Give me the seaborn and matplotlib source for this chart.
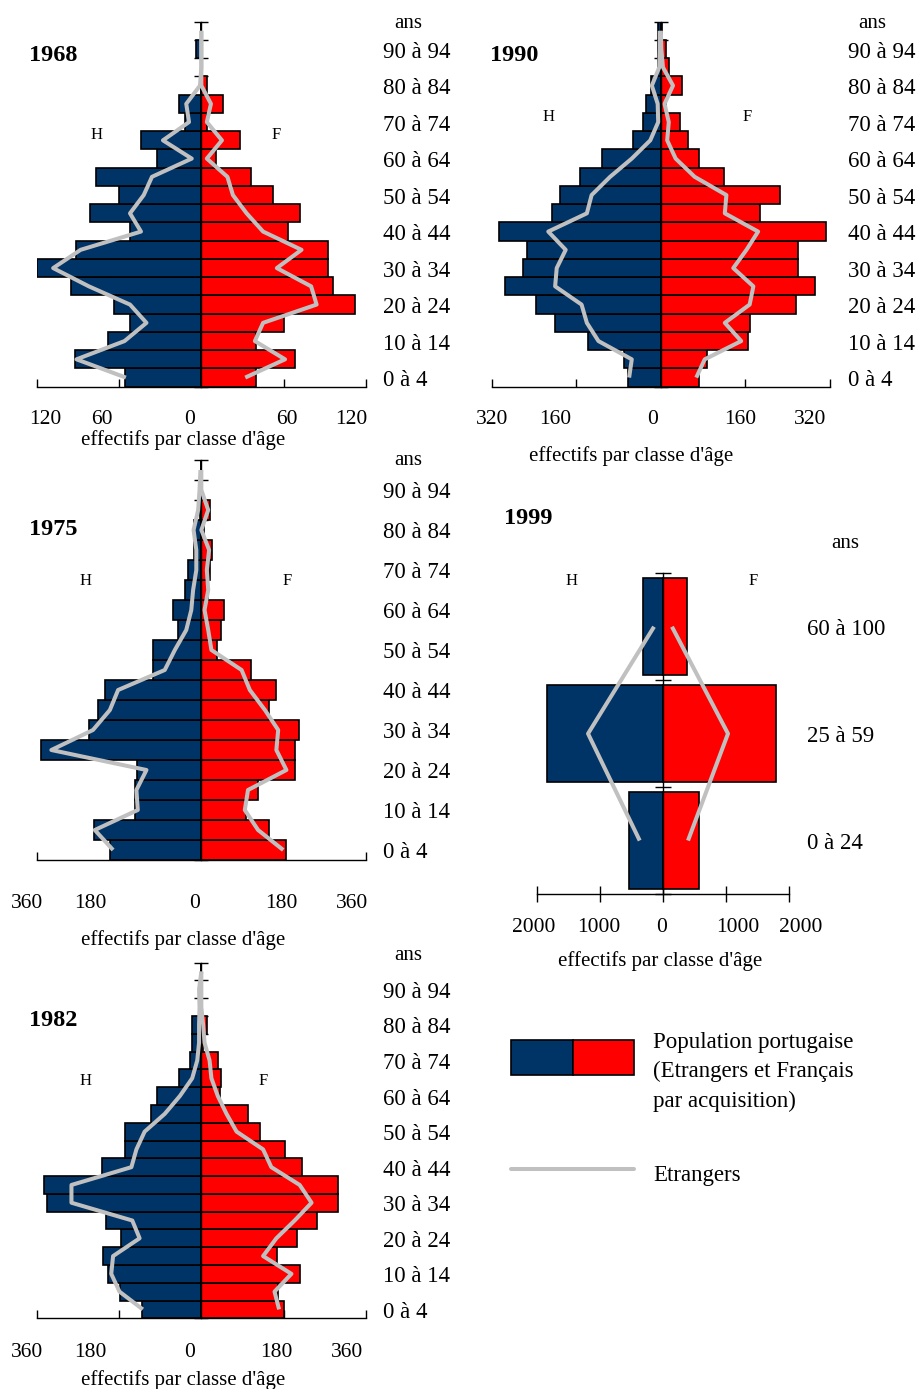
import numpy as np
import pandas as pd
import matplotlib
matplotlib.use("Agg")
import matplotlib.pyplot as plt
from matplotlib import transforms
from matplotlib.patches import Patch
from matplotlib.lines import Line2D
from matplotlib.legend_handler import HandlerTuple
import seaborn as sns

# ---------------------------------------------------------------------------
# Données : effectifs par tranche d'âge (H = hommes, F = femmes)
# ---------------------------------------------------------------------------
groupes = [f"{a} à {a + 4}" for a in range(0, 100, 5)]      # 0 à 4 ... 95 à 99
groupes_1999 = ["0 à 24", "25 à 59", "60 à 100"]

# Population portugaise (étrangers et Français par acquisition)
h_1968 = [56, 92, 68, 52, 64, 95, 120, 91, 52, 81, 60, 77, 32, 44, 12, 16, 0, 0, 4, 0]
f_1968 = [40, 68, 40, 60, 112, 96, 92, 92, 63, 72, 52, 36, 11, 28, 4, 16, 4, 0, 0, 0]
h_1975 = [200, 235, 146, 146, 141, 350, 246, 225, 211, 106, 106, 51, 61, 36, 30, 16, 16, 4, 0, 0]
f_1975 = [184, 149, 98, 124, 204, 204, 214, 149, 164, 109, 34, 44, 49, 15, 20, 24, 5, 18, 0, 0]
h_1982 = [129, 177, 204, 215, 175, 209, 337, 345, 217, 168, 168, 109, 97, 49, 25, 21, 20, 0, 0, 0]
f_1982 = [180, 168, 215, 166, 210, 252, 299, 299, 219, 182, 128, 102, 40, 44, 36, 4, 12, 0, 0, 0]
h_1990 = [62, 69, 137, 200, 236, 294, 261, 253, 306, 205, 190, 153, 112, 53, 34, 29, 18, 5, 5, 5]
f_1990 = [72, 88, 164, 168, 255, 292, 260, 260, 313, 188, 225, 120, 72, 52, 36, 10, 40, 16, 9, 2]
h_1999 = [544, 1836, 322]
f_1999 = [570, 1784, 375]

# Etrangers
h_etr_1968 = [55, 91, 56, 40, 52, 82, 108, 88, 44, 52, 42, 36, 7, 28, 9, 11, 1, 0, 0, 0]
f_etr_1968 = [32, 61, 39, 45, 84, 80, 55, 73, 45, 33, 23, 19, 4, 15, 4, 7, 0, 0, 0, 0]
h_etr_1975 = [193, 233, 139, 142, 120, 328, 237, 200, 182, 80, 58, 33, 22, 18, 11, 11, 17, 7, 4, 2]
f_etr_1975 = [179, 124, 95, 102, 186, 164, 168, 139, 106, 88, 22, 15, 7, 15, 12, 17, 0, 15, 0, 0]
h_etr_1982 = [128, 179, 197, 193, 135, 151, 284, 284, 153, 142, 124, 80, 47, 20, 9, 5, 5, 4, 5, 0]
f_etr_1982 = [170, 160, 197, 135, 164, 204, 241, 215, 153, 135, 77, 55, 36, 22, 18, 7, 4, 0, 0, 0]
h_etr_1990 = [60, 55, 118, 140, 150, 200, 197, 180, 213, 140, 131, 96, 55, 20, 5, 6, 17, 3, 2, 2]
f_etr_1990 = [67, 83, 152, 121, 168, 175, 137, 162, 184, 121, 124, 64, 28, 12, 15, 7, 23, 4, 1, 0]
h_etr_1999 = [369, 1187, 142]
f_etr_1999 = [396, 1029, 142]

# Graduations des axes horizontaux
ticks_1968 = [-120, -60, 0, 60, 120]
ticks_1975 = [-360, -180, 0, 180, 360]
ticks_1982 = [-360, -180, 0, 180, 360]
ticks_1990 = [-320, -160, 0, 160, 320]
ticks_1999 = [-2000, -1000, 0, 1000, 2000]

# ---------------------------------------------------------------------------
# Mise en forme
# ---------------------------------------------------------------------------
sns.set_style("white")
plt.rcParams["font.family"] = ["Liberation Serif", "DejaVu Serif"]
plt.rcParams["axes.linewidth"] = 1.0
plt.rcParams["axes.edgecolor"] = "black"
plt.rcParams["text.color"] = "black"
plt.rcParams["xtick.color"] = "black"
plt.rcParams["ytick.color"] = "black"

BLEU = "#003366"
ROUGE = "#ff0000"
GRIS = "#c0c0c0"
W, H = 920, 1389
DY_TXT = 3  # décalage vertical (px) pour centrer visuellement les chiffres

fig = plt.figure(figsize=(W / 100, H / 100), dpi=100)
fig.patch.set_facecolor("white")


def fx(px):
    return px / W


def fy(py):
    return 1 - (py + DY_TXT) / H


def pyramide(annee, grp, hom, fem, hom_etr, fem_etr, ticks, st):
    x0, x1, y0, y1 = st["box"]
    ax = fig.add_axes([x0 / W, 1 - y1 / H, (x1 - x0) / W, (y1 - y0) / H])
    n = len(grp)
    pos = np.arange(n)
    df = pd.DataFrame({"pos": pos, "H": -np.asarray(hom, float), "F": np.asarray(fem, float)})

    for col, colour in (("H", BLEU), ("F", ROUGE)):
        sns.barplot(data=df, x=col, y="pos", orient="y", native_scale=True,
                    width=st["bar_w"], color=colour, saturation=1,
                    edgecolor="black", linewidth=1.2, errorbar=None, ax=ax)

    for vals in (-np.asarray(hom_etr, float), np.asarray(fem_etr, float)):
        sns.lineplot(x=vals, y=pos, orient="y", sort=False, estimator=None,
                     color=GRIS, linewidth=2.9, ax=ax, zorder=3,
                     solid_capstyle="butt")

    ax.set_xlim(ticks[0], ticks[-1])
    ax.set_ylim(-0.5, n - 0.5)
    ax.set(xlabel="", ylabel="")
    ax.set_facecolor("none")
    ax.set_axisbelow(True)

    # axe vertical au centre, graduations aux limites des classes
    for s in ("top", "right"):
        ax.spines[s].set_visible(False)
    ax.spines["left"].set_position(("data", 0))
    ax.set_yticks(np.arange(n + 1) - 0.5)
    ax.tick_params(axis="y", left=True, direction="inout", length=st["ytick"], width=1,
                   labelleft=False, color="black")
    ax.set_xticks(ticks)
    ax.tick_params(axis="x", bottom=True, direction=st["xdir"], length=st["xtick"],
                   width=1, labelbottom=False, color="black")

    # étiquettes des graduations
    for t, px in zip(ticks, st["tick_x"]):
        fig.text(fx(px), fy(st["tick_y"]), f"{abs(t)}", ha="center", va="center",
                 fontsize=15.5)
    fig.text(fx(st["xlabel"][0]), fy(st["xlabel"][1]), "effectifs par classe d'âge",
             ha="center", va="center", fontsize=15)

    # classes d'âge
    tr = transforms.offset_copy(
        transforms.blended_transform_factory(fig.transFigure, ax.transData),
        fig=fig, y=-DY_TXT, units="dots")
    for i in range(0, n, st["age_step"]):
        if st["age_step"] == 2 and i >= 19:
            continue
        ax.text(fx(st["age_x"]), i, grp[i], transform=tr, ha="left", va="center",
                fontsize=16.5, clip_on=False)
    fig.text(fx(st["ans"][0]), fy(st["ans"][1]), "ans", ha="left", va="center",
             fontsize=15)

    fig.text(fx(st["title"][0]), fy(st["title"][1]), annee, ha="left", va="center",
             fontsize=17.5, fontweight="bold")
    fig.text(fx(st["H"][0]), fy(st["H"][1]), "H", ha="center", va="center", fontsize=12)
    fig.text(fx(st["F"][0]), fy(st["F"][1]), "F", ha="center", va="center", fontsize=12)
    return ax


styles = {
    "1968": dict(box=(36.7, 366, 21.7, 386.7), bar_w=1.0, ytick=10, xtick=6, xdir="in",
                 tick_x=[45, 101.7, 189.3, 287.3, 351.7], tick_y=416, xlabel=(183, 437),
                 age_x=383, age_step=2, ans=(394, 20), title=(29.3, 52.7),
                 H=(96.7, 131.7), F=(276, 131.7)),
    "1990": dict(box=(491.7, 830, 21.7, 386.7), bar_w=1.0, ytick=10, xtick=6, xdir="in",
                 tick_x=[492, 555, 653, 740, 810], tick_y=416, xlabel=(631, 453),
                 age_x=847.7, age_step=2, ans=(858.3, 20), title=(489.7, 52.7),
                 H=(548.3, 114), F=(746.7, 114)),
    "1975": dict(box=(36.7, 366, 460, 860), bar_w=1.0, ytick=10, xtick=6, xdir="in",
                 tick_x=[26.7, 90.7, 195, 281.7, 351.7], tick_y=900.7, xlabel=(183, 937.3),
                 age_x=383, age_step=2, ans=(394, 457.3), title=(29.3, 526.7),
                 H=(86, 578.3), F=(286.7, 578.3)),
    "1982": dict(box=(36.7, 366, 962.7, 1318.3), bar_w=1.0, ytick=10, xtick=6, xdir="in",
                 tick_x=[26.7, 90.7, 190, 276.7, 346.7], tick_y=1349.3, xlabel=(183, 1377.3),
                 age_x=383, age_step=2, ans=(394, 953), title=(29.3, 1017.3),
                 H=(86, 1078.3), F=(263.3, 1078.3)),
    "1999": dict(box=(536.7, 789.3, 573.3, 894), bar_w=0.91, ytick=11.5, xtick=11, xdir="inout",
                 tick_x=[534, 598.3, 661.7, 737.7, 800.7], tick_y=925, xlabel=(660, 958.3),
                 age_x=806.7, age_step=1, ans=(831.7, 540.7), title=(504.3, 515),
                 H=(571.7, 578.3), F=(752.7, 578.3)),
}

pyramide("1968", groupes, h_1968, f_1968, h_etr_1968, f_etr_1968, ticks_1968, styles["1968"])
pyramide("1990", groupes, h_1990, f_1990, h_etr_1990, f_etr_1990, ticks_1990, styles["1990"])
pyramide("1975", groupes, h_1975, f_1975, h_etr_1975, f_etr_1975, ticks_1975, styles["1975"])
pyramide("1982", groupes, h_1982, f_1982, h_etr_1982, f_etr_1982, ticks_1982, styles["1982"])
pyramide("1999", groupes_1999, h_1999, f_1999, h_etr_1999, f_etr_1999, ticks_1999, styles["1999"])


class HandlerDecale(HandlerTuple):
    """Pavé de légende remonté de `dy` points par rapport au texte."""

    def __init__(self, dy=0, **kw):
        super().__init__(**kw)
        self.dy = dy

    def create_artists(self, legend, orig_handle, xdescent, ydescent, width, height,
                       fontsize, trans):
        return super().create_artists(legend, orig_handle, xdescent, ydescent - self.dy,
                                      width, height, fontsize, trans)


# Légende
poly = (Patch(facecolor=BLEU, edgecolor="black", linewidth=1.2),
        Patch(facecolor=ROUGE, edgecolor="black", linewidth=1.2))
trait = Line2D([], [], color=GRIS, linewidth=2.9)
leg = fig.legend(handles=[poly, trait],
                 labels=["Population portugaise\n(Etrangers et Français\npar acquisition)",
                         "Etrangers"],
                 handler_map={tuple: HandlerDecale(dy=10.5, ndivide=None, pad=0)},
                 loc="upper left", bbox_to_anchor=(511 / W, 1 - 1032 / H),
                 bbox_transform=fig.transFigure, frameon=False, fontsize=16.5,
                 handlelength=5.37, handleheight=1.97, handletextpad=0.82,
                 labelspacing=1.95, borderpad=0, borderaxespad=0)
for t in leg.get_texts():
    t.set_linespacing(1.5)

fig.savefig("out.png", dpi=100, facecolor="white")
